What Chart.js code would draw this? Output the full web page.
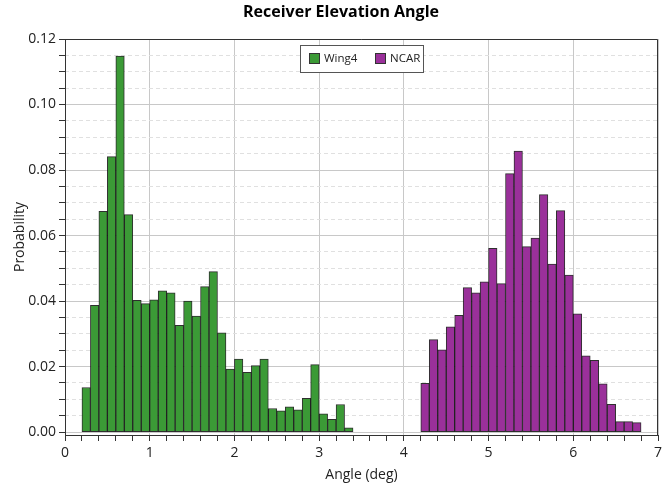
<!DOCTYPE html>
<html>
<head>
<meta charset="utf-8">
<title>Receiver Elevation Angle</title>
<script src="https://cdn.jsdelivr.net/npm/chart.js@4.4.1/dist/chart.umd.min.js"></script>
<style>
  html, body { margin: 0; padding: 0; background: #fff; }
  canvas { display: block; }
</style>
</head>
<body>
<canvas id="chart" width="672" height="485"></canvas>
<script>
// Histogram bins (left edge, deg) and probability per bin
const binWidth = 0.1;
const wingBins = [0.2, 0.3, 0.4, 0.5, 0.6, 0.7, 0.8, 0.9, 1.0, 1.1, 1.2, 1.3, 1.4, 1.5, 1.6, 1.7,
                  1.8, 1.9, 2.0, 2.1, 2.2, 2.3, 2.4, 2.5, 2.6, 2.7, 2.8, 2.9, 3.0, 3.1, 3.2, 3.3];
const wingValues = [0.0136, 0.0387, 0.0674, 0.0841, 0.1148, 0.0664, 0.0402, 0.0392, 0.0404, 0.0431, 0.0425, 0.0326,
                    0.0400, 0.0354, 0.0444, 0.0490, 0.0303, 0.0192, 0.0223, 0.0182, 0.0203, 0.0223, 0.0072, 0.0065,
                    0.0077, 0.0068, 0.0103, 0.0206, 0.0056, 0.0039, 0.0084, 0.0013];
const ncarBins = [4.2, 4.3, 4.4, 4.5, 4.6, 4.7, 4.8, 4.9, 5.0, 5.1, 5.2, 5.3, 5.4,
                  5.5, 5.6, 5.7, 5.8, 5.9, 6.0, 6.1, 6.2, 6.3, 6.4, 6.5, 6.6, 6.7];
const ncarValues = [0.0149, 0.0282, 0.0251, 0.0321, 0.0356, 0.0441, 0.0425, 0.0459, 0.0561, 0.0453, 0.0789, 0.0858, 0.0566,
                    0.0592, 0.0725, 0.0513, 0.0676, 0.0479, 0.0361, 0.0233, 0.0219, 0.0147, 0.0085, 0.0032, 0.0032, 0.0029];

// Axis ticks
const xLabels = [0, 1, 2, 3, 4, 5, 6, 7];
const yLabels = [0, 0.02, 0.04, 0.06, 0.08, 0.10, 0.12];
const yMin = -0.0009, yMax = 0.12;
const yMinorStep = 0.005;
const yTicks = Array.from({ length: 25 }, (_, i) => +(i * yMinorStep).toFixed(3));

const near = (a, b) => Math.abs(a - b) < 1e-6;
const isXLabel = v => xLabels.some(t => near(t, v));
const isYLabel = v => yLabels.some(t => near(t, v));
const toPoints = (bins, vals) => bins.map((b, i) => ({ x: b + binWidth / 2, y: vals[i] }));

Chart.defaults.font.family = '"Open Sans", "DejaVu Sans", sans-serif';
Chart.defaults.color = '#222';

// top/right frame + legend box inside the plot
const frameAndLegend = {
  id: 'frameAndLegend',
  afterDraw(chart) {
    const { ctx, chartArea: a } = chart;
    ctx.save();
    ctx.strokeStyle = '#333';
    ctx.lineWidth = 1;
    ctx.beginPath();
    ctx.moveTo(a.left, a.top + 0.5);
    ctx.lineTo(a.right - 0.5, a.top + 0.5);
    ctx.lineTo(a.right - 0.5, a.bottom);
    ctx.stroke();

    const w = 123, h = 27;
    const left = Math.round((a.left + a.right) / 2 - w / 2) + 0.5;
    const top = a.top + 6.5;
    ctx.fillStyle = '#fff';
    ctx.fillRect(left, top, w, h);
    ctx.strokeStyle = '#555';
    ctx.strokeRect(left, top, w, h);
    ctx.font = '11.5px "Open Sans", sans-serif';
    ctx.textBaseline = 'middle';
    let x = Math.round(left + 8);
    chart.data.datasets.forEach(ds => {
      ctx.fillStyle = ds.backgroundColor;
      ctx.fillRect(x, top + 7.5, 11, 11);
      ctx.strokeStyle = '#333';
      ctx.strokeRect(x + 0.5, top + 8, 10, 10);
      ctx.fillStyle = '#222';
      ctx.fillText(ds.label, x + 15, top + h / 2);
      x += 66;
    });
    ctx.restore();
  }
};

new Chart(document.getElementById('chart'), {
  type: 'bar',
  data: {
    datasets: [
      {
        label: 'Wing4',
        data: toPoints(wingBins, wingValues),
        backgroundColor: '#3b9a36',
        borderColor: 'rgba(10,10,10,0.85)',
        borderWidth: 1,
        borderSkipped: false,
        grouped: false,
        barPercentage: 1,
        categoryPercentage: 1
      },
      {
        label: 'NCAR',
        data: toPoints(ncarBins, ncarValues),
        backgroundColor: '#9a309a',
        borderColor: 'rgba(10,10,10,0.85)',
        borderWidth: 1,
        borderSkipped: false,
        grouped: false,
        barPercentage: 1,
        categoryPercentage: 1
      }
    ]
  },
  options: {
    responsive: false,
    animation: false,
    events: [],
    layout: { padding: { left: 24, right: 14, top: 0, bottom: 0 } },
    plugins: {
      legend: { display: false },
      tooltip: { enabled: false },
      title: {
        display: true,
        text: 'Receiver Elevation Angle',
        color: '#000',
        font: { size: 16, weight: 'bold', lineHeight: 1.2 },
        padding: { top: 3, bottom: 16.8 }
      }
    },
    scales: {
      x: {
        type: 'linear',
        min: 0,
        max: 7,
        offset: false,
        grid: {
          offset: false,
          color: c => (c.tick && isXLabel(c.tick.value)) ? '#c8c8c8' : 'rgba(0,0,0,0)',
          tickColor: '#333',
          tickLength: 6
        },
        border: { color: '#333' },
        ticks: {
          stepSize: 0.2,
          autoSkip: false,
          maxRotation: 0,
          padding: 4,
          font: { size: 14 },
          callback: v => isXLabel(v) ? String(Math.round(v)) : ''
        },
        title: {
          display: true,
          text: 'Angle (deg)',
          font: { size: 14 },
          padding: { top: 0, bottom: 2 }
        },
        afterFit: s => { s.height = 50; }
      },
      y: {
        min: yMin,
        max: yMax,
        bounds: 'data',
        afterBuildTicks: s => { s.ticks = yTicks.map(v => ({ value: v })); },
        grid: {
          color: c => (c.tick && isYLabel(c.tick.value)) ? '#c8c8c8' : 'rgba(0,0,0,0)',
          tickColor: '#333',
          tickLength: 6
        },
        border: { color: '#333' },
        ticks: {
          autoSkip: false,
          padding: 3,
          font: { size: 14 },
          callback: v => isYLabel(v) ? v.toFixed(2) : ''
        },
        title: {
          display: true,
          text: 'Probability',
          font: { size: 14 },
          padding: { top: -12, bottom: 0 }
        },
        afterFit: s => { s.width = 41; }
      },
      yMinor: {
        position: 'left',
        min: yMin,
        max: yMax,
        bounds: 'data',
        afterBuildTicks: s => { s.ticks = yTicks.map(v => ({ value: v })); },
        grid: {
          drawTicks: false,
          color: c => (c.tick && !isYLabel(c.tick.value)) ? '#e0e0e0' : 'rgba(0,0,0,0)'
        },
        border: { display: false, dash: [4, 3] },
        ticks: { display: false, autoSkip: false },
        afterFit: s => { s.width = 0; }
      }
    }
  },
  plugins: [frameAndLegend]
});
</script>
</body>
</html>
